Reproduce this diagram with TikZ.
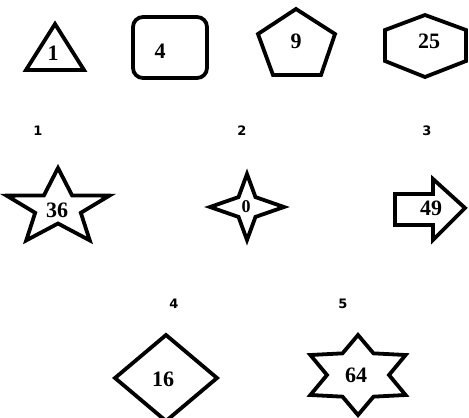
\documentclass[tikz,border=0pt]{standalone}
\usepackage{fontspec}
\newfontfamily\numfont{Liberation Serif}
\newfontfamily\labfont{DejaVu Sans}
\begin{document}
\begin{tikzpicture}[x=1pt, y=-1pt,
  outline/.style={draw=black, line width=3.8pt},
  num/.style={font=\numfont\bfseries\fontsize{22}{22}\selectfont, inner sep=0pt},
  lab/.style={font=\labfont\bfseries\fontsize{13}{13}\selectfont, inner sep=0pt},
]
  \useasboundingbox (0,0) rectangle (469,418);

  % first row
  \draw[outline] (55,24) -- (84,70) -- (26,70) -- cycle;
  \draw[outline, rounded corners=10pt] (133,17) rectangle (207,78);
  \draw[outline] (296,9) -- (335,34) -- (321,75) -- (273,75) -- (258,34) -- cycle;
  \draw[outline] (425,15) -- (466,30) -- (466,61) -- (425,77) -- (385,61) -- (385,30) -- cycle;

  \node[num] (triangle) at (53,53) {1};
  \node[num] (square) at (160,51) {4};
  \node[num] (pentagon) at (296,41) {9};
  \node[num] (hexagon) at (429,41) {25};

  % second row
  \node[lab] (label1) at (38,131) {1};
  \node[lab] (label2) at (242,131) {2};
  \node[lab] (label3) at (427,131) {3};

  \draw[outline] plot[samples at={0,...,9}]
    ({58+(mod(\x,2)==0 ? 54 : 24)*cos(90+36*\x)}, {208-(mod(\x,2)==0 ? 40 : 15.5)*sin(90+36*\x)}) -- cycle;
  \draw[outline] plot[samples at={0,...,7}]
    ({247+(mod(\x,2)==0 ? 37 : 12)*cos(90+45*\x)}, {207-(mod(\x,2)==0 ? 33 : 14)*sin(90+45*\x)}) -- cycle;
  \draw[outline] (395,194) -- (433,194) -- (433,179) -- (465,208) -- (433,240) -- (433,225) -- (395,225) -- cycle;

  \node[num] (star) at (57,210) {36};
  \node[num, font=\numfont\bfseries\fontsize{18}{18}\selectfont] (sparkle) at (246,207) {0};
  \node[num] (arrow) at (431,208) {49};

  % third row
  \node[lab] (label4) at (174,304) {4};
  \node[lab] (label5) at (343,304) {5};

  \draw[outline] (166,335) -- (217,378) -- (166,421) -- (115,378) -- cycle;
  \draw[outline] plot[samples at={0,...,11}]
    ({358+(mod(\x,2)==0 ? 55 : 31)*cos(90+30*\x)}, {375-(mod(\x,2)==0 ? 40 : 25)*sin(90+30*\x)}) -- cycle;

  \node[num] (diamond) at (163,379) {16};
  \node[num] (hexagram) at (356,375) {64};
\end{tikzpicture}
\end{document}
